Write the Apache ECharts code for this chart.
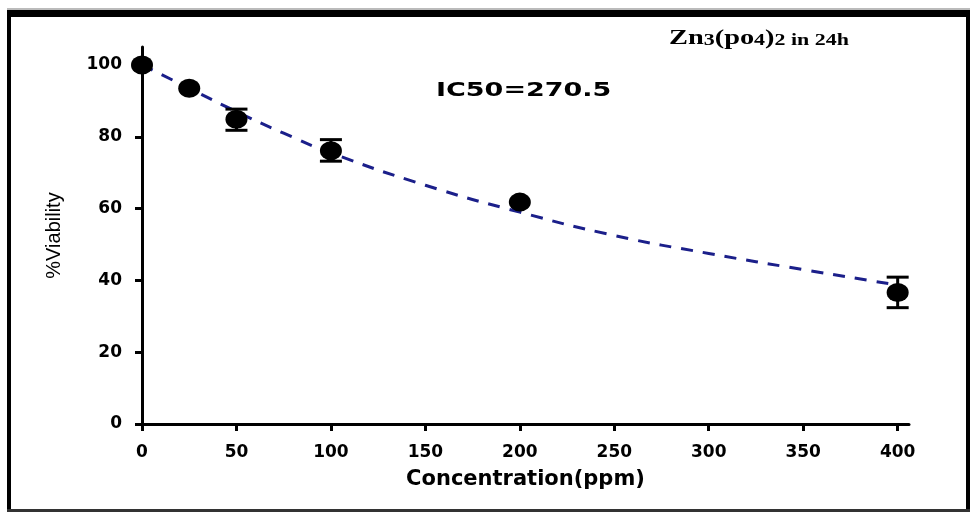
<!DOCTYPE html>
<html>
<head>
<meta charset="utf-8">
<title>Zn3(PO4)2 in 24h - viability</title>
<script src="https://cdn.jsdelivr.net/npm/echarts@6/dist/echarts.min.js"></script>
</head>
<body style="margin:0">
<div id="main" style="width:973px;height:512px"></div>
<script>
// measured points (ppm, % viability)
var doses = [0, 25, 50, 100, 200, 400];
var viability = [100, 93.5, 84.9, 76.1, 61.8, 36.6];
// error bars, null = no bar drawn
var errLow = [null, null, 81.8, 73.2, null, 32.4];
var errHigh = [null, null, 87.7, 79.2, null, 40.9];
// fitted curve
var fitX = [0, 25, 50, 75, 100, 150, 200, 250, 300, 350, 400];
var fitY = [100, 93.5, 87, 81, 75.5, 66.5, 59, 52.5, 47.5, 43, 38.7];
// axis ticks
var xTicks = [0, 50, 100, 150, 200, 250, 300, 350, 400];
var yTicks = [0, 20, 40, 60, 80, 100];

var chart = echarts.init(document.getElementById('main'));

var pts = doses.map(function (d, i) { return [d, viability[i]]; });
var errs = [];
doses.forEach(function (d, i) {
    if (errLow[i] != null) errs.push([d, errLow[i], errHigh[i]]);
});
var fit = fitX.map(function (x, i) { return [x, fitY[i]]; });

var labelFont = { color: '#000', fontFamily: 'DejaVu Sans', fontWeight: 'bold', fontSize: 17 };

chart.setOption({
    animation: false,
    backgroundColor: '#fff',
    grid: { left: 142, right: 64, top: 47, bottom: 88, containLabel: false, outerBoundsMode: 'none' },
    xAxis: {
        type: 'value', min: 0, max: 406, interval: 50,
        name: 'Concentration(ppm)', nameLocation: 'middle', nameGap: 45,
        nameTextStyle: { color: '#000', fontFamily: 'DejaVu Sans', fontWeight: 'bold', fontSize: 21 },
        axisLine: { show: true, onZero: false, lineStyle: { color: '#000', width: 3 } },
        axisTick: { show: true, length: 7, lineStyle: { color: '#000', width: 3 }, customValues: xTicks },
        axisLabel: Object.assign({ margin: 20, customValues: xTicks }, labelFont),
        splitLine: { show: false }
    },
    yAxis: {
        type: 'value', min: 0, max: 105, interval: 20,
        name: '%Viability', nameLocation: 'middle', nameGap: 78, nameRotate: 90,
        nameTextStyle: { color: '#000', fontFamily: 'Liberation Sans', fontSize: 20 },
        axisLine: { show: true, onZero: false, lineStyle: { color: '#000', width: 3 } },
        axisTick: { show: true, length: 7, lineStyle: { color: '#000', width: 3 }, customValues: yTicks },
        axisLabel: Object.assign({ margin: 20, customValues: yTicks }, labelFont),
        splitLine: { show: false }
    },
    series: [
        {
            type: 'line',
            data: fit,
            smooth: true,
            showSymbol: false,
            lineStyle: { color: '#1b1f8a', width: 3, type: [12, 10] },
            z: 3
        },
        {
            type: 'custom',
            data: errs,
            z: 4,
            renderItem: function (params, api) {
                var x = api.value(0);
                var lo = api.coord([x, api.value(1)]);
                var hi = api.coord([x, api.value(2)]);
                var hw = 11;
                var st = { stroke: '#000', lineWidth: 3 };
                return {
                    type: 'group',
                    children: [
                        { type: 'line', shape: { x1: hi[0], y1: hi[1], x2: lo[0], y2: lo[1] }, style: st },
                        { type: 'line', shape: { x1: hi[0] - hw, y1: hi[1], x2: hi[0] + hw, y2: hi[1] }, style: st },
                        { type: 'line', shape: { x1: lo[0] - hw, y1: lo[1], x2: lo[0] + hw, y2: lo[1] }, style: st }
                    ]
                };
            }
        },
        {
            type: 'scatter',
            data: pts,
            symbol: 'circle',
            symbolSize: [22, 19],
            itemStyle: { color: '#000', opacity: 1 },
            z: 5
        }
    ],
    graphic: [
        { type: 'rect', shape: { x: 7, y: 8, width: 963, height: 2 }, style: { fill: '#bbb' } },
        { type: 'rect', shape: { x: 7, y: 10, width: 963, height: 7 }, style: { fill: '#000' } },
        { type: 'rect', shape: { x: 7, y: 10, width: 4, height: 502 }, style: { fill: '#000' } },
        { type: 'rect', shape: { x: 966, y: 10, width: 4, height: 502 }, style: { fill: '#000' } },
        { type: 'rect', shape: { x: 7, y: 509, width: 963, height: 3 }, style: { fill: '#333' } },
        {
            type: 'text', x: 669, y: 27, scaleX: 1.29,
            style: {
                text: '{b|Zn}{s|3}{b|(po}{s|4}{b|)}{s|2 in 24h}',
                verticalAlign: 'top',
                rich: {
                    b: { fontFamily: 'Liberation Serif', fontWeight: 'bold', fontSize: 22, lineHeight: 22, verticalAlign: 'bottom', fill: '#000' },
                    s: { fontFamily: 'Liberation Serif', fontWeight: 'bold', fontSize: 17, lineHeight: 17, verticalAlign: 'bottom', fill: '#000' }
                }
            }
        },
        {
            type: 'text', x: 436, y: 91, scaleX: 1.42,
            style: {
                text: 'IC50=270.5',
                fontFamily: 'DejaVu Sans', fontWeight: 'bold', fontSize: 19,
                verticalAlign: 'middle', fill: '#000'
            }
        }
    ]
});
</script>
</body>
</html>
